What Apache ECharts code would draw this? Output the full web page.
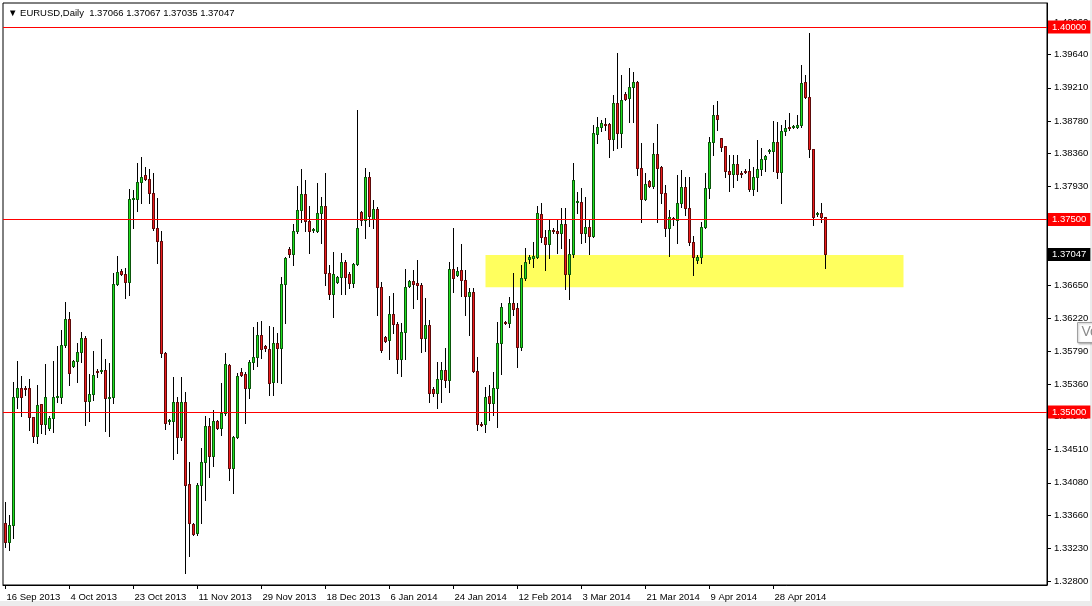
<!DOCTYPE html>
<html><head><meta charset="utf-8">
<script src="https://cdn.jsdelivr.net/npm/echarts@6/dist/echarts.min.js"></script>
<style>html,body{margin:0;padding:0;background:#fff}#c{width:1092px;height:606px}</style>
</head><body><div id="c"></div>
<script>
// EURUSD Daily OHLC (one bar per slot, Sunday bars included)
const opens = [
1.3356,1.3331,1.3353,1.3520,1.3531,1.3531,1.3531,1.3494,1.3469,1.3510,
1.3484,1.3479,1.3492,1.3520,1.3520,1.3587,1.3621,1.3560,1.3566,1.3578,
1.3596,1.3514,1.3523,1.3553,1.3553,1.3555,1.3518,1.3520,1.3666,1.3683,
1.3679,1.3669,1.3777,1.3777,1.3799,1.3808,1.3803,1.3784,1.3739,1.3722,
1.3577,1.3488,1.3488,1.3513,1.3468,1.3513,1.3406,1.3355,1.3343,1.3405,
1.3435,1.3482,1.3443,1.3488,1.3479,1.3499,1.3561,1.3427,1.3468,1.3552,
1.3549,1.3531,1.3565,1.3571,1.3600,1.3586,1.3582,1.3539,1.3590,1.3583,
1.3666,1.3712,1.3705,1.3735,1.3762,1.3783,1.3748,1.3736,1.3735,1.3758,
1.3768,1.3681,1.3653,1.3669,1.3675,1.3695,1.3679,1.3668,1.3692,1.3760,
1.3749,1.3805,1.3751,1.3764,1.3662,1.3597,1.3593,1.3627,1.3614,1.3569,
1.3604,1.3664,1.3670,1.3667,1.3665,1.3596,1.3613,1.3530,1.3525,1.3543,
1.3555,1.3542,1.3686,1.3678,1.3684,1.3671,1.3651,1.3656,1.3553,1.3485,
1.3484,1.3521,1.3512,1.3531,1.3590,1.3617,1.3616,1.3642,1.3635,1.3584,
1.3674,1.3699,1.3700,1.3701,1.3757,1.3727,1.3718,1.3736,1.3735,1.3732,
1.3744,1.3679,1.3705,1.3773,1.3773,1.3732,1.3740,1.3729,1.3861,1.3870,
1.3874,1.3874,1.3854,1.3901,1.3862,1.3913,1.3908,1.3922,1.3929,1.3817,
1.3777,1.3800,1.3794,1.3835,1.3818,1.3784,1.3739,1.3752,1.3749,1.3772,
1.3792,1.3765,1.3721,1.3698,1.3701,1.3740,1.3791,1.3851,1.3886,1.3856,
1.3845,1.3813,1.3809,1.3822,1.3810,1.3813,1.3813,1.3790,1.3805,1.3816,
1.3829,1.3839,1.3839,1.3851,1.3812,1.3865,1.3870,1.3870,1.3870,1.3873,
1.3928,1.3909,1.3842,1.3757,1.3758,1.3753];
const highs = [
1.3383,1.3366,1.3539,1.3566,1.3547,1.3534,1.3543,1.3494,1.3535,1.3510,
1.3562,1.3495,1.3566,1.3586,1.3607,1.3643,1.3630,1.3568,1.3590,1.3604,
1.3599,1.3549,1.3579,1.3556,1.3595,1.3569,1.3564,1.3681,1.3703,1.3686,
1.3687,1.3790,1.3788,1.3823,1.3831,1.3818,1.3816,1.3810,1.3778,1.3735,
1.3578,1.3491,1.3546,1.3520,1.3546,1.3526,1.3435,1.3356,1.3408,1.3453,
1.3495,1.3492,1.3503,1.3490,1.3538,1.3577,1.3562,1.3469,1.3551,1.3557,
1.3552,1.3568,1.3610,1.3617,1.3618,1.3587,1.3612,1.3610,1.3603,1.3675,
1.3701,1.3714,1.3744,1.3794,1.3816,1.3801,1.3768,1.3739,1.3797,1.3779,
1.3810,1.3691,1.3708,1.3677,1.3706,1.3697,1.3682,1.3693,1.3892,1.3761,
1.3817,1.3812,1.3775,1.3766,1.3669,1.3599,1.3651,1.3655,1.3617,1.3616,
1.3686,1.3671,1.3684,1.3697,1.3667,1.3648,1.3619,1.3532,1.3565,1.3565,
1.3583,1.3695,1.3739,1.3688,1.3718,1.3684,1.3661,1.3661,1.3571,1.3487,
1.3532,1.3535,1.3552,1.3617,1.3642,1.3618,1.3649,1.3681,1.3642,1.3691,
1.3713,1.3704,1.3721,1.3767,1.3771,1.3736,1.3749,1.3739,1.3749,1.3765,
1.3765,1.3725,1.3823,1.3786,1.3791,1.3779,1.3749,1.3873,1.3883,1.3879,
1.3882,1.3875,1.3912,1.3966,1.3938,1.3915,1.3947,1.3942,1.3930,1.3849,
1.3810,1.3801,1.3849,1.3874,1.3820,1.3795,1.3762,1.3753,1.3808,1.3814,
1.3805,1.3805,1.3729,1.3704,1.3747,1.3810,1.3857,1.3899,1.3904,1.3856,
1.3845,1.3834,1.3834,1.3834,1.3813,1.3815,1.3828,1.3818,1.3853,1.3843,
1.3834,1.3841,1.3878,1.3877,1.3873,1.3879,1.3888,1.3873,1.3886,1.3951,
1.3938,1.3992,1.3842,1.3760,1.3771,1.3753];
const lows = [
1.3325,1.3321,1.3336,1.3505,1.3495,1.3522,1.3477,1.3461,1.3460,1.3473,
1.3472,1.3477,1.3474,1.3513,1.3512,1.3584,1.3535,1.3558,1.3539,1.3565,
1.3483,1.3488,1.3516,1.3545,1.3551,1.3475,1.3469,1.3512,1.3665,1.3678,
1.3648,1.3652,1.3739,1.3761,1.3771,1.3801,1.3771,1.3736,1.3694,1.3571,
1.3478,1.3484,1.3439,1.3447,1.3464,1.3291,1.3313,1.3340,1.3340,1.3356,
1.3386,1.3416,1.3430,1.3478,1.3470,1.3496,1.3412,1.3395,1.3466,1.3547,
1.3486,1.3518,1.3556,1.3560,1.3570,1.3579,1.3522,1.3522,1.3539,1.3538,
1.3616,1.3701,1.3691,1.3732,1.3747,1.3735,1.3707,1.3734,1.3734,1.3720,
1.3665,1.3647,1.3623,1.3668,1.3653,1.3653,1.3661,1.3662,1.3691,1.3743,
1.3726,1.3742,1.3739,1.3626,1.3578,1.3591,1.3569,1.3603,1.3551,1.3547,
1.3569,1.3662,1.3635,1.3647,1.3578,1.3579,1.3513,1.3521,1.3505,1.3513,
1.3532,1.3526,1.3656,1.3677,1.3651,1.3626,1.3600,1.3552,1.3477,1.3482,
1.3474,1.3490,1.3496,1.3481,1.3549,1.3614,1.3610,1.3626,1.3558,1.3580,
1.3671,1.3693,1.3688,1.3700,1.3721,1.3684,1.3700,1.3732,1.3707,1.3713,
1.3660,1.3647,1.3701,1.3759,1.3720,1.3721,1.3705,1.3727,1.3849,1.3865,
1.3866,1.3831,1.3840,1.3843,1.3844,1.3905,1.3877,1.3877,1.3808,1.3747,
1.3775,1.3792,1.3791,1.3747,1.3771,1.3729,1.3703,1.3743,1.3720,1.3766,
1.3756,1.3717,1.3678,1.3693,1.3694,1.3739,1.3778,1.3834,1.3866,1.3839,
1.3805,1.3787,1.3792,1.3801,1.3805,1.3810,1.3787,1.3782,1.3787,1.3808,
1.3813,1.3836,1.3813,1.3804,1.3771,1.3860,1.3866,1.3869,1.3869,1.3870,
1.3908,1.3831,1.3743,1.3755,1.3747,1.3687];
const closes = [
1.3331,1.3353,1.3520,1.3531,1.3520,1.3530,1.3494,1.3469,1.3509,1.3484,
1.3520,1.3492,1.3520,1.3521,1.3587,1.3621,1.3551,1.3566,1.3578,1.3596,
1.3514,1.3523,1.3548,1.3552,1.3555,1.3518,1.3520,1.3666,1.3682,1.3679,
1.3669,1.3777,1.3778,1.3799,1.3805,1.3803,1.3784,1.3739,1.3722,1.3577,
1.3486,1.3490,1.3513,1.3468,1.3513,1.3405,1.3356,1.3342,1.3405,1.3435,
1.3482,1.3443,1.3488,1.3479,1.3499,1.3562,1.3427,1.3468,1.3547,1.3548,
1.3531,1.3565,1.3571,1.3600,1.3582,1.3583,1.3538,1.3590,1.3583,1.3666,
1.3700,1.3705,1.3735,1.3762,1.3783,1.3748,1.3735,1.3738,1.3758,1.3768,
1.3681,1.3653,1.3679,1.3675,1.3695,1.3675,1.3668,1.3692,1.3739,1.3749,
1.3805,1.3755,1.3764,1.3662,1.3580,1.3592,1.3627,1.3614,1.3569,1.3604,
1.3662,1.3670,1.3666,1.3665,1.3596,1.3613,1.3525,1.3525,1.3543,1.3555,
1.3542,1.3686,1.3674,1.3683,1.3671,1.3651,1.3656,1.3553,1.3484,1.3483,
1.3520,1.3512,1.3531,1.3590,1.3636,1.3616,1.3642,1.3634,1.3584,1.3674,
1.3695,1.3701,1.3703,1.3758,1.3727,1.3718,1.3736,1.3735,1.3732,1.3744,
1.3679,1.3705,1.3801,1.3774,1.3732,1.3740,1.3729,1.3862,1.3870,1.3875,
1.3873,1.3854,1.3901,1.3862,1.3905,1.3906,1.3922,1.3929,1.3817,1.3777,
1.3796,1.3794,1.3835,1.3817,1.3784,1.3739,1.3753,1.3751,1.3772,1.3792,
1.3765,1.3721,1.3701,1.3701,1.3740,1.3791,1.3851,1.3886,1.3881,1.3844,
1.3813,1.3809,1.3822,1.3809,1.3809,1.3812,1.3790,1.3805,1.3816,1.3829,
1.3832,1.3840,1.3851,1.3812,1.3865,1.3869,1.3869,1.3871,1.3873,1.3927,
1.3909,1.3842,1.3753,1.3758,1.3753,1.3705];

const dateLabels = ['16 Sep 2013','4 Oct 2013','23 Oct 2013','11 Nov 2013','29 Nov 2013','18 Dec 2013',
  '6 Jan 2014','24 Jan 2014','12 Feb 2014','3 Mar 2014','21 Mar 2014','9 Apr 2014','28 Apr 2014'];
const dateLabelBars = [0,16,32,48,64,80,96,112,128,144,160,176,192];
const priceTicks = [1.32800,1.33230,1.33660,1.34080,1.34510,1.34940,1.35360,1.35790,1.36220,
  1.36650,1.37070,1.37500,1.37930,1.38360,1.38780,1.39210,1.39640,1.40060];
const levels = [1.40000, 1.37500, 1.35000];
const lastBar = [1.37066, 1.37067, 1.37035, 1.37047];
const zone = {fromBar: 120, toBar: 224.5, top: 1.3704, bottom: 1.3662};
// visible bar range of the window (bar index units; 4 px per bar)
const xMin = -0.625, xMax = 260.375;
const yMin = 1.32753, yMax = 1.40312;

const labelMap = {};
dateLabelBars.forEach((b, k) => { labelMap[b] = dateLabels[k]; });
const ohlc = opens.map((o, i) => [i, o, closes[i], lows[i], highs[i]]);

const BULL = '#1fe01f', BEAR = '#ee1c1c';
const FONT = "'Liberation Sans', Arial, sans-serif";
const FS = 9.5;
const chart = echarts.init(document.getElementById('c'), null, {renderer: 'canvas'});

function levelSeries(v, lineColor, boxColor) {
  return {
    type: 'line', data: [], silent: true, z: 5, color: boxColor,
    markLine: {
      symbol: 'none', silent: true, animation: false, precision: 5,
      lineStyle: {color: lineColor, width: 1, type: 'solid'},
      label: {show: true, position: 'end', distance: 1, formatter: v.toFixed(5), color: '#fff',
        backgroundColor: boxColor, padding: [2, 4, 1, 4], fontSize: FS, fontFamily: FONT, lineHeight: 10},
      emphasis: {disabled: true},
      data: [{yAxis: v}]
    }
  };
}

function renderCandle(params, api) {
  const i = api.value(0), o = api.value(1), c = api.value(2), l = api.value(3), h = api.value(4);
  const pO = api.coord([i, o]), pC = api.coord([i, c]);
  const pH = api.coord([i, h]), pL = api.coord([i, l]);
  const cx = Math.floor(pO[0]) + 0.5;
  const yT = Math.round(Math.min(pO[1], pC[1]));
  const yB = Math.round(Math.max(pO[1], pC[1]));
  const yH = Math.round(pH[1]), yL = Math.round(pL[1]) + 1;
  const kids = [{type: 'line', shape: {x1: cx, y1: yH, x2: cx, y2: yL},
    style: {stroke: '#000', lineWidth: 1}}];
  if (yB - yT < 1) {
    kids.push({type: 'line', shape: {x1: cx - 1.5, y1: yT + 0.5, x2: cx + 1.5, y2: yT + 0.5},
      style: {stroke: '#000', lineWidth: 1}});
  } else {
    kids.push({type: 'rect', shape: {x: cx - 1.5, y: yT, width: 3, height: yB - yT + 1},
      style: {fill: c >= o ? BULL : BEAR}});
    kids.push({type: 'rect', shape: {x: cx - 1, y: yT + 0.5, width: 2, height: yB - yT},
      style: {fill: null, stroke: 'rgba(0,0,0,0.62)', lineWidth: 1}});
  }
  return {type: 'group', children: kids};
}

const series = [{
  type: 'line', data: [], z: 1, silent: true,
  markArea: {silent: true, itemStyle: {color: '#ffff5e'},
    data: [[{xAxis: zone.fromBar, yAxis: zone.top}, {xAxis: zone.toBar, yAxis: zone.bottom}]]}
}, {
  type: 'custom', data: ohlc, z: 3, silent: true,
  encode: {x: 0, y: [1, 2, 3, 4]},
  renderItem: renderCandle
}];
levels.forEach(v => series.push(levelSeries(v, '#ff0000', '#ff0000')));
series.push(levelSeries(lastBar[3], 'rgba(0,0,0,0)', '#000000'));

chart.setOption({
  animation: false,
  backgroundColor: '#ffffff',
  title: {
    text: '▼ EURUSD,Daily  ' + lastBar.map(v => v.toFixed(5)).join(' '),
    left: 8, top: 8, padding: 0,
    textStyle: {fontSize: 9.5, fontWeight: 'normal', fontFamily: FONT, color: '#000'}
  },
  grid: {left: 3, top: 3, width: 1044, height: 582, show: true, borderColor: '#000', borderWidth: 1,
    backgroundColor: 'transparent'},
  xAxis: {
    type: 'value', min: xMin, max: xMax,
    axisLine: {show: true, onZero: false, lineStyle: {color: '#000'}},
    axisTick: {show: true, length: 4, lineStyle: {color: '#000'}, customValues: dateLabelBars},
    axisLabel: {show: true, customValues: dateLabelBars,
      formatter: (val) => labelMap[Math.round(val)] || '', align: 'left', margin: 7,
      fontSize: FS, fontFamily: FONT, color: '#000', padding: [0, 0, 0, 1]},
    splitLine: {show: false}
  },
  yAxis: {
    type: 'value', position: 'right', min: yMin, max: yMax, scale: true,
    axisLine: {show: true, onZero: false, lineStyle: {color: '#000'}},
    axisTick: {show: true, length: 4, lineStyle: {color: '#000'}, customValues: priceTicks},
    axisLabel: {show: true, customValues: priceTicks, formatter: (v) => v.toFixed(5), margin: 7,
      fontSize: FS, fontFamily: FONT, color: '#000'},
    splitLine: {show: false}
  },
  series: series,
  graphic: [
    {type: 'rect', left: 0, top: 601, shape: {width: 1092, height: 5}, style: {fill: '#ececec'}, silent: true},
    {type: 'rect', left: 1090, top: 0, shape: {width: 2, height: 606}, style: {fill: '#ececec'}, silent: true},
    {
    type: 'group', left: 1077, top: 322, children: [
      {type: 'rect', shape: {x: 0, y: 0, width: 40, height: 20},
        style: {fill: '#fff', stroke: '#a0a0a0', lineWidth: 1, shadowBlur: 2, shadowColor: 'rgba(0,0,0,0.25)', shadowOffsetX: 1, shadowOffsetY: 1}},
      {type: 'text', x: 4, y: 3, style: {text: 'Volumes', fill: '#8a8a8a', font: '14px ' + FONT}}
    ]
  }]
});
</script></body></html>
